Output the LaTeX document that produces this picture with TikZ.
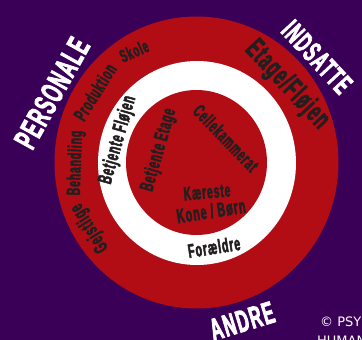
\documentclass[tikz,border=0pt]{standalone}
\usepackage{fontspec}
\setmainfont{Liberation Sans}
\newfontfamily\cond[FakeStretch=0.54,FakeBold=2.5,LetterSpace=5]{Liberation Sans Bold}
\newfontfamily\credit{DejaVu Sans}
\definecolor{bgpurple}{HTML}{3A0058}
\definecolor{ringred}{HTML}{B20D15}
\definecolor{inkdark}{HTML}{231F20}
\tikzset{
  lbl/.style={inner sep=0pt,text=inkdark,font=\cond\fontsize{#1}{#1}\selectfont},
  wht/.style={inner sep=0pt,text=white,font=\cond\fontsize{#1}{#1}\selectfont},
  creditstyle/.style={inner sep=0pt,anchor=west,text=white,font=\credit\fontsize{13}{13}\selectfont}
}
\begin{document}
\begin{tikzpicture}[x=1pt,y=-1pt]
\useasboundingbox (0,0) rectangle (362,340);
\fill[bgpurple] (0,0) rectangle (362,340);
\fill[ringred] (196.5,162.5) ellipse [x radius=142,y radius=146];
\fill[white] (197,163) ellipse [x radius=99,y radius=102];
\fill[ringred] (196.5,162.5) ellipse [x radius=70.5,y radius=72.5];
\node[wht=32,rotate=61] (personale) at (52,93) {PERSONALE};
\node[wht=29,rotate=-47] (indsatte) at (317,57) {INDSATTE};
\node[wht=31,rotate=17] (andre) at (242,321) {ANDRE};
\node[lbl=29,rotate=-47] (etage) at (287,85) {Etage/Fløjen};
\node[lbl=18,rotate=24] (skole) at (134,51) {Skole};
\node[lbl=19,rotate=58] (prod) at (95,92) {Produktion};
\node[lbl=19,rotate=88] (behand) at (76,163) {Behandling};
\node[lbl=20,rotate=122] (gejst) at (90,228) {Gejstlige};
\node[lbl=20,rotate=74] (bfl) at (118,140) {Betjente Fløjen};
\node[lbl=19.5,rotate=74] (bet) at (159,150) {Betjente Etage};
\node[lbl=19,rotate=-46] (celle) at (226,138) {Cellekammerat};
\node[lbl=19,rotate=5] (kaer) at (207,192) {Kæreste};
\node[lbl=20,rotate=9] (kone) at (211,211) {Kone / Børn};
\node[lbl=19.5,rotate=9] (foraeldre) at (214,247) {Forældre};
\node[creditstyle] (c1) at (320,322) {© PSY};
\node[creditstyle] (c2) at (317,341) {HUMAN};
\end{tikzpicture}
\end{document}
